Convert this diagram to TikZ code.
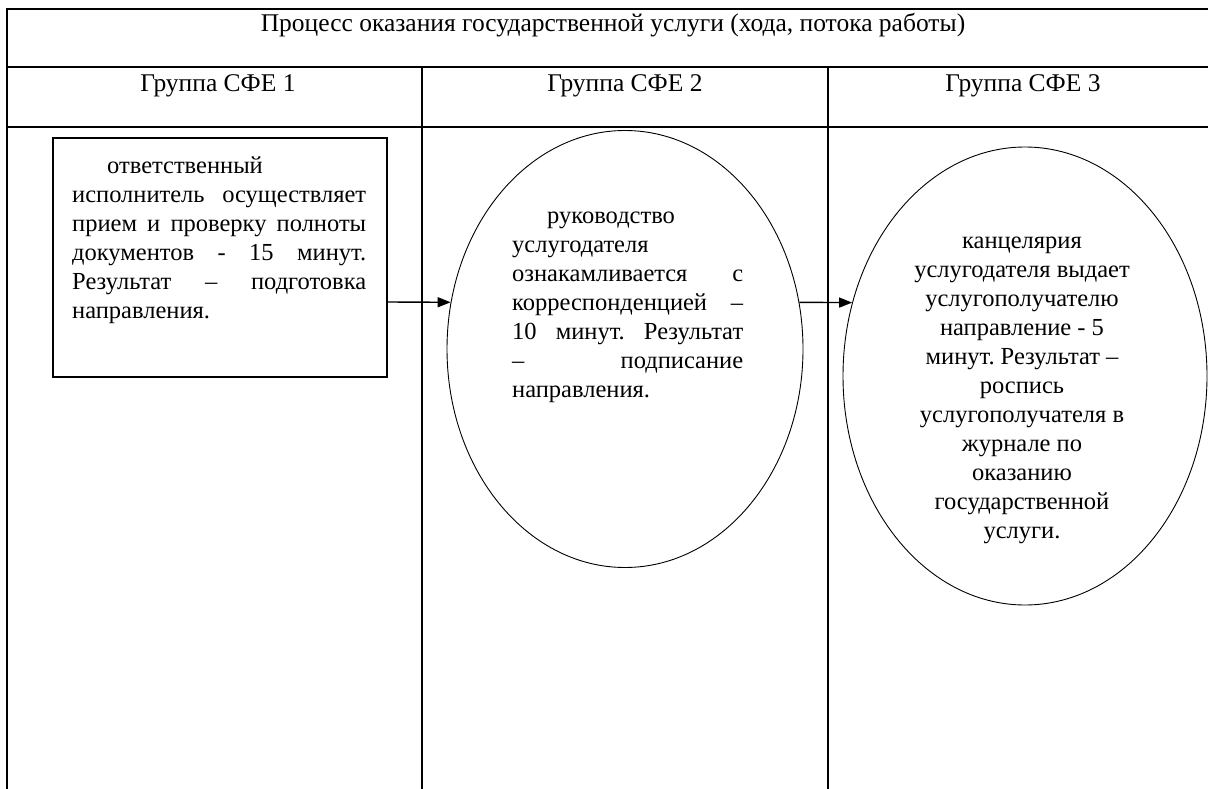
\documentclass[tikz,border=0pt]{standalone}
\usepackage{fontspec}
\setmainfont{Liberation Serif}
\usetikzlibrary{arrows.meta,shapes.geometric}

\newlength{\boxw}\setlength{\boxw}{294pt}
\newlength{\ovalw}\setlength{\ovalw}{231pt}
\newcommand{\jline}[2]{\makebox[#1][s]{\spaceskip=0pt\xspaceskip=0pt #2}}

\tikzset{
	grid/.style={line width=1.6pt},
	cell/.style={font=\rmfamily\frenchspacing\fontsize{25.5}{29}\selectfont, inner sep=0pt},
	steptext/.style={font=\rmfamily\frenchspacing\fontsize{24.5}{29}\selectfont, inner sep=0pt, anchor=north west, align=left},
	stepbox/.style={draw, line width=1.2pt, rectangle, inner sep=0pt},
	stepoval/.style={draw, line width=0.9pt, ellipse, inner sep=0pt},
	flow/.style={-{Triangle[length=13pt,width=10pt]}, line width=1.4pt}
}

\begin{document}
\begin{tikzpicture}[x=1pt, y=-1pt]
			\useasboundingbox (0,0) rectangle (1208,789);

			% Draw the table
			\draw[grid] (1208,9) -- (7,9) -- (7,789);
			\draw[grid] (7,67) -- (1208,67);
			\draw[grid] (7,127) -- (1208,127);
			\draw[grid] (422,67) -- (422,789);
			\draw[grid] (828,67) -- (828,789);

			% Draw the headers
			\node[cell, anchor=base] (title) at (613,32) {Процесс оказания государственной услуги (хода, потока работы)};
			\node[cell, anchor=base] (grp1) at (218,92) {Группа СФЕ 1};
			\node[cell, anchor=base] (grp2) at (625,92) {Группа СФЕ 2};
			\node[cell, anchor=base] (grp3) at (1023,92) {Группа СФЕ 3};

			% Draw the steps
			\node[stepbox, minimum width=334pt, minimum height=239pt] (recv) at (220,257.5) {};
			\node[stepoval, minimum width=356pt, minimum height=437pt] (sign) at (625,349) {};
			\node[stepoval, minimum width=364pt, minimum height=458pt] (issue) at (1025,376) {};

			% Draw the texts of the steps
			\node[steptext, text width=\boxw] (recvtext) at (72,152.7)
			{\hspace*{35pt}\strut ответственный\\
			\jline{\boxw}{исполнитель осуществляет}\\
			\jline{\boxw}{прием и проверку полноты}\\
			\jline{\boxw}{документов - 15 минут.}\\
			\jline{\boxw}{Результат – подготовка}\\
			направления.};

			\node[steptext, text width=\ovalw] (signtext) at (512,202.7)
			{\hspace*{35pt}\strut руководство\\
			услугодателя\\
			\jline{\ovalw}{ознакамливается с}\\
			\jline{\ovalw}{корреспонденцией –}\\
			\jline{\ovalw}{10 минут. Результат}\\
			\jline{\ovalw}{– подписание}\\
			направления.};

			\node[steptext, anchor=north, align=center] (issuetext) at (1022,227.7)
			{\strut канцелярия\\ услугодателя выдает\\ услугополучателю\\
			направление - 5\\ минут. Результат –\\ роспись\\ услугополучателя в\\
			журнале по\\ оказанию\\ государственной\\ услуги.};

			% Draw the arrows between the steps
			\coordinate (a1) at (387,302);
			\draw[flow] (recv.east |- a1) -- (sign.165);
			\draw[flow] (sign.15) -- (issue.157);

\end{tikzpicture}
\end{document}
